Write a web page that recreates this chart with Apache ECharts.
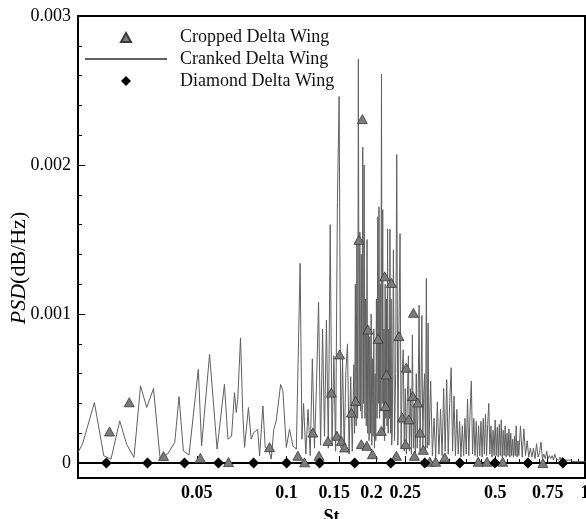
<!DOCTYPE html>
<html>
<head>
<meta charset="utf-8">
<script src="https://cdn.jsdelivr.net/npm/echarts@6/dist/echarts.min.js"></script>
<style>
html,body{margin:0;padding:0;background:#fff;}
#c{width:586px;height:519px;}
</style>
</head>
<body>
<div id="c"></div>
<script>
// ---------------- data ----------------
const seriesNames = ['Cropped Delta Wing', 'Cranked Delta Wing', 'Diamond Delta Wing'];

// Cranked Delta Wing (line)
const crankedSt = [
  0.0200,0.0207,0.0227,0.0244,0.0258,0.0276,0.0291,0.0308,0.0324,0.0340,0.0358,0.0377,0.0399,0.0422,0.0436,0.0451,0.0471,0.0506,0.0519,0.0552,
  0.0585,0.0619,0.0636,0.0654,0.0669,0.0678,0.0686,0.0701,0.0713,0.0723,0.0745,0.0761,0.0776,0.0800,0.0812,0.0833,0.0848,0.0870,0.0888,0.0906,
  0.0923,0.0955,0.0972,0.0998,0.1023,0.1050,0.1078,0.1110,0.1126,
  0.114,0.116,0.118,0.120,0.122,0.124,0.126,0.128,0.130,0.132,0.134,0.136,0.138,0.140,0.142,0.144,0.146,0.148,0.150,0.152,0.154,0.156,0.158,0.160,0.162,0.164,0.166,0.168,
  0.169,0.170,0.171,0.172,0.173,0.174,0.175,0.176,0.177,0.178,0.179,0.180,0.181,0.182,0.183,0.184,0.185,0.186,0.187,0.188,0.189,0.190,0.191,0.192,0.193,0.194,0.195,0.196,0.197,0.198,
  0.199,0.200,0.201,0.202,0.203,0.204,0.205,0.206,0.207,0.208,0.209,0.210,0.211,0.212,0.213,0.214,0.215,0.216,0.217,0.218,0.219,0.220,0.221,0.222,0.223,0.224,0.225,
  0.226,0.228,0.230,0.232,0.234,0.236,0.238,0.240,0.242,0.244,0.246,0.248,0.250,0.252,0.254,0.256,0.258,0.260,0.262,0.264,0.266,0.268,0.270,0.272,0.274,0.276,0.278,0.280,0.282,0.284,
  0.286,0.288,0.290,0.292,0.294,0.296,0.298,0.300,
  0.304,0.308,0.312,0.316,0.320,0.324,0.328,0.332,0.336,0.340,0.344,0.348,0.352,0.356,0.360,0.364,0.368,0.372,0.376,0.380,0.384,0.388,0.392,0.396,0.400,
  0.404,0.408,0.412,0.416,0.420,0.424,0.428,0.432,0.436,0.440,0.444,0.448,0.452,0.456,0.460,0.464,0.468,0.472,0.476,0.480,0.484,0.488,0.492,0.496,0.500,
  0.504,0.508,0.512,0.516,0.520,0.524,0.528,0.532,0.536,0.540,0.544,0.548,0.552,0.556,0.560,0.564,0.568,0.572,0.576,0.580,0.584,0.588,0.592,0.596,0.600,
  0.608,0.616,0.624,0.632,0.640,0.648,0.656,0.664,0.672,0.680,0.688,0.696,0.704,0.712,0.720,0.728,0.736,0.744,0.752,0.760,0.768,0.776,0.784,0.792,0.800,
  0.808,0.816,0.824,0.832,0.840,0.848,0.856,0.864,0.872,0.880,0.888,0.896,0.904,0.912,0.920,0.928,0.936,0.944,0.952,0.960,0.968,0.976,0.984,0.992,1.000
];
const crankedPsd = [
  .000072,.000127,.000406,.000049,.000027,.000283,.000127,.000038,.000517,.000373,.0005,.000027,.00006,.000138,.000446,.000082,.000054,.000629,.000116,.000729,
  .000094,.000528,.00016,.00018,.000473,.00034,.000428,.00084,.000339,.000105,.000373,.00016,.000205,.000227,.000049,.000383,.000105,.000094,.000027,.000227,
  .000283,.000528,.000484,.000105,.000227,.000116,.000094,.00134,.00016,
  .0004,.00006,.00036,.00005,.0007,.0001,.00054,.00108,.00012,.0009,.00018,.00096,.0001,.0016,.00012,.00072,.00008,.00175,.00246,.0001,.0007,.00008,.00062,.0008,.00006,.00058,.00008,.00066,
  .0002,.0012,.00025,.0015,.0003,.00271,.0004,.00155,.00035,.0014,.0003,.00212,.0004,.002,.0003,.0011,.00025,.0015,.0002,.0009,.00015,.00085,.0002,.001,.00012,.0007,.00018,.0009,.0001,.0006,
  .00015,.0011,.0003,.00165,.0004,.00172,.0003,.0012,.00035,.00261,.0004,.0017,.0002,.0009,.00015,.0012,.0003,.0011,.00025,.00157,.0002,.0009,.0003,.00157,.0002,.0011,.00012,
  .0002,.00143,.00015,.0006,.00207,.00012,.0009,.00154,.0001,.0006,.00076,.00008,.0005,.00006,.00045,.00072,.00008,.0005,.00006,.00086,.0001,.0004,.00006,.0006,.0001,.00045,.00106,.00008,.0005,.00099,
  .0001,.00045,.0006,.00008,.00124,.0001,.00094,.00012,
  .00055,.00005,.0003,.00004,.00041,.00006,.00036,.00005,.0005,.00008,.00056,.00006,.0004,.00064,.00008,.00045,.00005,.00036,.00006,.00028,.00004,.00025,.00005,.0003,.00006,
  .00043,.00005,.00035,.00055,.00006,.0003,.00005,.00028,.00004,.00025,.00005,.00028,.00004,.0003,.00006,.00033,.00005,.00026,.0004,.00006,.00025,.00004,.00022,.00005,.00029,
  .00005,.00024,.00004,.00026,.00005,.00029,.00004,.00022,.00005,.00025,.00004,.0002,.00005,.00023,.00004,.0002,.00005,.00016,.00004,.00018,.00005,.00025,.00004,.00015,.00005,
  .00025,.00004,.00023,.00005,.00015,.00004,.0001,.00004,.0001,.00003,.00013,.00004,.00007,.00014,.00003,.00006,.00003,.00008,.00003,.00005,.00003,.00005,.00002,.00006,.00003,
  .00004,.00002,.00004,.00002,.00004,.00002,.00003,.00002,.00003,.00002,.00003,.00002,.00002,.00001,.00002,.00001,.00002,.00001,.00002,.00001,.00001,.00001,.00001,.00001,.00001
];

// Cropped Delta Wing (triangles)
const croppedSt = [0.0255,0.0297,0.0387,0.0514,0.0639,0.0877,0.1091,0.1149,0.1225,0.1284,0.1376,0.1412,0.1475,0.1506,0.1526,0.1565,0.1649,0.1704,0.1748,0.1794,
  0.1780,0.1858,0.1873,0.1939,0.2025,0.2077,0.2132,0.2148,0.2159,0.2245,0.2333,0.2380,0.2442,0.2518,0.2505,0.2570,0.2661,0.2647,0.2682,0.2750,
  0.2800,0.2871,0.3020,0.3160,0.3390,0.4389,0.4697,0.5300,0.7225];
const croppedPsd = [.000212,.000408,.000047,.000035,.000007,.000107,.000049,.000005,.000205,.000049,.000149,.000473,.000183,.000729,.000149,.000105,.000339,.000417,.001498,.002308,
  .000127,.000116,.000896,.00006,.000834,.000216,.001253,.000383,.000595,.001209,.000049,.000852,.000306,.00064,.000127,.000294,.001008,.00045,.000049,.000406,
  .000205,.000089,.000009,.000009,.000038,.000009,.000009,.000009,0];

// Diamond Delta Wing (diamonds)
const diamondSt = [0.0249,0.0342,0.0455,0.0591,0.0775,0.1000,0.1290,0.1691,0.2234,0.2904,0.3806,0.4989,0.6438,0.8435];
const diamondPsd = [0,0,0,0,0,0,0,0,0,0,0,0,0,0];

// axis ticks / labels
const xTickLabels = [0.05, 0.1, 0.15, 0.2, 0.25, 0.5, 0.75, 1];
const xMinorTicks = [0.3, 0.35, 0.4, 0.45, 0.55, 0.6, 0.65, 0.7, 0.8, 0.85, 0.9, 0.95];
const yTickLabels = [0, 0.001, 0.002, 0.003];
const yMinorTicks = [0.0002,0.0004,0.0006,0.0008,0.0012,0.0014,0.0016,0.0018,0.0022,0.0024,0.0026,0.0028];

// ---------------- chart ----------------
function pairs(xs, ys) {
  if (xs.length !== ys.length) throw new Error('length mismatch ' + xs.length + ' vs ' + ys.length);
  return xs.map((x, i) => [x, ys[i]]);
}
const serif = '"Liberation Serif", "Times New Roman", serif';
const chart = echarts.init(document.getElementById('c'), null, { renderer: 'canvas' });

function xLabel(v) {
  const s = String(+(+v).toPrecision(3));
  if (s === '0.15' || s === '0.2') return '{l|' + s + '}';
  return '{n|' + s + '}';
}
const xLabelFont = { fontFamily: serif, fontWeight: 'bold', fontSize: 18, color: '#000' };
// legend icons: invisible anchor points keep the marker at its natural size in the centre of the 82x10 slot
const triIcon = 'path://M0,0M82,10M36,10L41,1L46,10Z';
const diaIcon = 'path://M0,0M82,10M41,0L46,5L41,10L36,5Z';

chart.setOption({
  animation: false,
  backgroundColor: '#ffffff',
  grid: { left: 78, right: 1, top: 16, bottom: 41, outerBoundsMode: 'none', containLabel: false,
          show: true, borderColor: '#000', borderWidth: 2, backgroundColor: 'transparent' },
  legend: {
    data: [
      { name: 'Cropped Delta Wing', icon: triIcon },
      { name: 'Cranked Delta Wing', itemStyle: { opacity: 0 } },
      { name: 'Diamond Delta Wing', icon: diaIcon }
    ],
    orient: 'vertical',
    left: 84, top: 28, padding: 0,
    itemWidth: 82, itemHeight: 10, itemGap: 4,
    textStyle: { fontFamily: serif, fontSize: 18, lineHeight: 18, color: '#111', padding: [0, 0, 0, 8] }
  },
  xAxis: [
    {
      type: 'log', logBase: 10, min: 0.02, max: 1,
      axisLine: { show: true, lineStyle: { color: '#000', width: 2 } },
      axisTick: { show: true, inside: true, length: 7, customValues: xTickLabels, lineStyle: { color: '#000', width: 1 } },
      axisLabel: {
        customValues: xTickLabels, formatter: xLabel, margin: 6,
        fontFamily: serif, fontWeight: 'bold', fontSize: 18, color: '#000',
        rich: {
          n: xLabelFont,
          l: Object.assign({ padding: [0, 10, 0, 0] }, xLabelFont)
        }
      },
      splitLine: { show: false },
      name: 'St', nameLocation: 'middle', nameGap: 30,
      nameTextStyle: { fontFamily: serif, fontWeight: 'bold', fontSize: 18, color: '#000' }
    },
    {
      type: 'log', logBase: 10, min: 0.02, max: 1, position: 'bottom',
      axisLine: { show: false },
      axisTick: { show: true, inside: true, length: 4, customValues: xMinorTicks, lineStyle: { color: '#000', width: 1 } },
      axisLabel: { show: false },
      splitLine: { show: false }
    }
  ],
  yAxis: [
    {
      type: 'value', min: -0.0001, max: 0.003,
      axisLine: { show: true, lineStyle: { color: '#000', width: 2 } },
      axisTick: { show: true, inside: true, length: 7, customValues: yTickLabels, lineStyle: { color: '#000', width: 1 } },
      axisLabel: { customValues: yTickLabels, formatter: v => (v === 0 ? '0' : (+v).toFixed(3)), fontFamily: serif, fontSize: 18, color: '#000', margin: 7 },
      splitLine: { show: false },
      name: '{i|PSD}{n|(dB/Hz)}', nameLocation: 'middle', nameGap: 48, nameRotate: 90, nameMoveOverlap: false,
      nameTextStyle: {
        fontFamily: serif, fontSize: 22, color: '#000', padding: [0, 42, 0, 0],
        rich: { i: { fontFamily: serif, fontSize: 22, fontStyle: 'italic', color: '#000' }, n: { fontFamily: serif, fontSize: 22, color: '#000' } }
      }
    },
    {
      type: 'value', min: -0.0001, max: 0.003, position: 'left',
      axisLine: { show: false },
      axisTick: { show: true, inside: true, length: 4, customValues: yMinorTicks, lineStyle: { color: '#000', width: 1 } },
      axisLabel: { show: false },
      splitLine: { show: false }
    }
  ],
  series: [
    {
      name: 'Cranked Delta Wing', type: 'line', xAxisIndex: 0, yAxisIndex: 0,
      data: pairs(crankedSt, crankedPsd),
      symbol: 'none', z: 2,
      lineStyle: { color: '#606060', width: 1 },
      itemStyle: { color: '#606060' }
    },
    {
      name: 'Cropped Delta Wing', type: 'scatter', xAxisIndex: 0, yAxisIndex: 0,
      data: pairs(croppedSt, croppedPsd),
      symbol: 'triangle', symbolSize: [10, 9], z: 3,
      itemStyle: { color: '#7b7b7b', borderColor: '#3a3a3a', borderWidth: 0.8, opacity: 1 }
    },
    {
      name: 'Diamond Delta Wing', type: 'scatter', xAxisIndex: 0, yAxisIndex: 0,
      data: pairs(diamondSt, diamondPsd),
      symbol: 'diamond', symbolSize: [11, 11], z: 4,
      itemStyle: { color: '#000', opacity: 1 }
    }
  ]
});
</script>
</body>
</html>
